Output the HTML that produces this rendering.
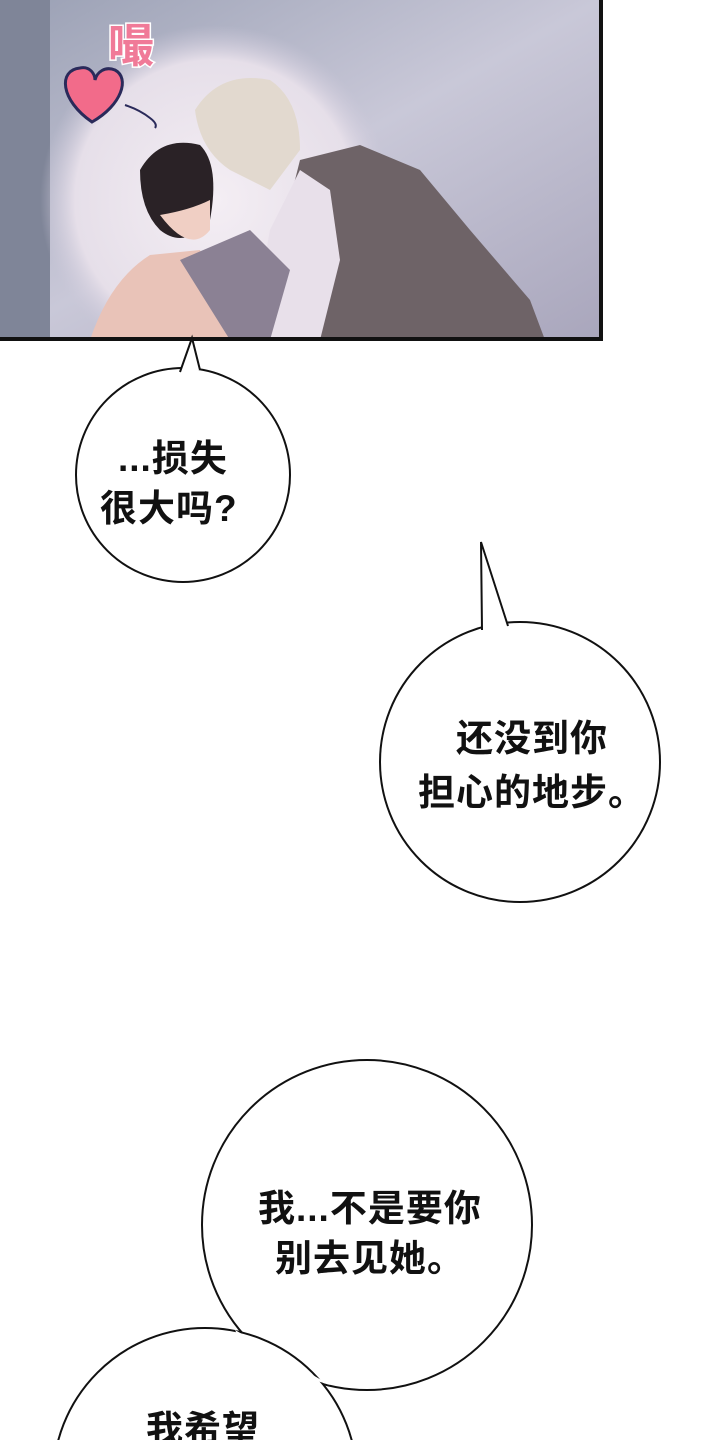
<!DOCTYPE html>
<html style="margin:0;width:720px;height:1440px;overflow:hidden"><head><meta charset="utf-8"><style>
body{margin:0;width:720px;height:1440px;background:#fff;position:relative;overflow:hidden;font-family:"Liberation Sans","Noto Sans CJK SC",sans-serif}
.t{position:absolute;font-size:37px;color:#111;line-height:50px;font-weight:bold;white-space:nowrap;letter-spacing:1px}
</style></head><body>
<svg width="720" height="1440" style="position:absolute;left:0;top:0">
<defs>
<linearGradient id="bg" x1="0" y1="0" x2="1" y2="1"><stop offset="0" stop-color="#9aa0b4"/><stop offset="0.5" stop-color="#c9c8d8"/><stop offset="1" stop-color="#a9a6bc"/></linearGradient>
<radialGradient id="gl" cx="0.5" cy="0.5" r="0.5"><stop offset="0" stop-color="#f4eef4"/><stop offset="0.8" stop-color="#e6dfe9"/><stop offset="1" stop-color="#cfcadb" stop-opacity="0"/></radialGradient>
<clipPath id="pc"><rect x="0" y="0" width="601" height="339"/></clipPath>
</defs>
<g clip-path="url(#pc)">
<rect x="0" y="0" width="601" height="339" fill="url(#bg)"/>
<rect x="0" y="0" width="50" height="339" fill="#7f8598"/>
<circle cx="215" cy="200" r="175" fill="url(#gl)"/>
<path d="M270 340 L290 200 L300 160 L360 145 L420 170 L470 230 L530 300 L545 340Z" fill="#6e6367"/>
<path d="M250 340 L270 230 L300 170 L330 190 L340 260 L320 340Z" fill="#e8e0ea"/>
<path d="M195 110 Q220 70 270 80 Q300 100 300 150 L270 190 L230 170 Q200 150 195 110Z" fill="#e2d9cf"/>
<path d="M90 340 Q110 280 150 255 L200 250 L230 340Z" fill="#e9c3b8"/>
<path d="M140 170 Q160 135 200 145 Q220 165 210 220 Q185 250 160 230 Q140 210 140 170Z" fill="#2a2226"/>
<path d="M160 215 Q190 255 210 230 L210 200 Q190 210 160 215Z" fill="#f0cfc4"/>
<path d="M180 260 L250 230 L290 270 L270 340 L230 340Z" fill="#8b8194"/>
<text x="108" y="62" font-size="46" font-weight="bold" fill="#f07a98" stroke="#fff" stroke-width="3" paint-order="stroke" font-family="Noto Sans CJK SC,sans-serif">嘬</text>
<path d="M92 122 C60 100 58 70 80 68 C90 66 95 74 95 80 C97 72 105 66 115 70 C130 78 122 105 92 122Z" fill="#f26b8a" stroke="#2a2a5a" stroke-width="3"/>
<path d="M125 105 Q140 110 150 118 Q158 124 155 128" fill="none" stroke="#2a2a5a" stroke-width="2"/>
</g>
<rect x="-4" y="-4" width="605" height="343" fill="none" stroke="#111" stroke-width="4"/>
<g fill="#fff" stroke="#111" stroke-width="2">
<circle cx="183" cy="475" r="107"/>
<circle cx="520" cy="762" r="140"/>
<circle cx="367" cy="1225" r="165"/>
<circle cx="205" cy="1480" r="152"/>
</g>
<path d="M180 372 L192 338 L200 370" fill="#fff" stroke="#111" stroke-width="2"/>
<path d="M178 376 L202 374" stroke="#fff" stroke-width="5"/>
<path d="M482 630 L481 542 L508 626" fill="#fff" stroke="#111" stroke-width="2"/>
<path d="M484 634 L506 629" stroke="#fff" stroke-width="6"/>
<path d="M235 1330 L330 1385 L250 1360Z" fill="#fff"/>
</svg>
<div class="t" style="left:118px;top:434px">...损失</div>
<div class="t" style="left:100px;top:484px">很大吗?</div>
<div class="t" style="left:456px;top:714px">还没到你</div>
<div class="t" style="left:418px;top:768px">担心的地步。</div>
<div class="t" style="left:258px;top:1184px">我...不是要你</div>
<div class="t" style="left:275px;top:1234px">别去见她。</div>
<div class="t" style="left:146px;top:1410px;line-height:40px">我希望</div>
</body></html>
